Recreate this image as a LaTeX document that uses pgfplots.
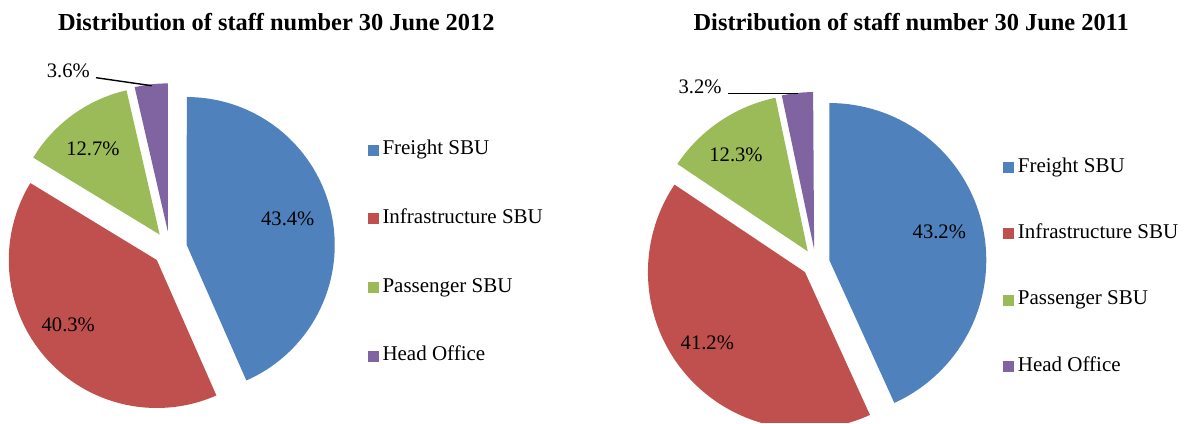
\documentclass[border=0pt]{standalone}
\usepackage{fontspec}
\setmainfont{Liberation Serif}
\usepackage{pgfplots}
\pgfplotsset{compat=1.18}

\definecolor{frblue}{HTML}{4F81BD}
\definecolor{inred}{HTML}{C0504D}
\definecolor{pagreen}{HTML}{9BBB59}
\definecolor{hopurple}{HTML}{8064A2}

\newcommand\lab{\fontsize{20.6}{24}\selectfont}
\newcommand\leg{\fontsize{21}{25}\selectfont}
\newcommand\ttl{\fontsize{24.4}{28}\selectfont\bfseries}

% pie: centre x, centre y, radius, explode distance; slices run clockwise from 12 o'clock
\newcommand\piestart[4]{\gdef\pcx{#1}\gdef\pcy{#2}\gdef\pr{#3}\gdef\pd{#4}\gdef\pang{90}}
\newcommand\pieslice[2]{%
  \pgfmathsetmacro\aone{\pang}%
  \pgfmathsetmacro\atwo{\pang-3.6*#1}%
  \pgfmathsetmacro\amid{(\aone+\atwo)/2}%
  \pgfmathsetmacro\ox{\pcx+\pd*cos(\amid)}%
  \pgfmathsetmacro\oy{\pcy+\pd*sin(\amid)}%
  \xdef\pang{\atwo}%
  \edef\doplot{\noexpand\addplot[fill=#2, draw=none, domain=\atwo:\aone, samples=90]
    ({\ox+\pr*cos(x)}, {\oy+\pr*sin(x)}) -- (axis cs:\ox,\oy) -- cycle;}%
  \doplot
}

\pgfplotsset{
  piebox/.style={
    width=593pt, height=423pt, scale only axis,
    ymin=0, ymax=423, hide axis,
    legend cell align=left,
    legend image code/.code={\fill[##1] (0pt,-5.5pt) rectangle (11pt,5.5pt);},
    legend style={draw=none, fill=none, anchor=north west, inner sep=0pt,
      nodes={inner sep=0pt, text height=14pt, text depth=4.5pt, font=\leg},
      /tikz/every odd column/.style={column sep=4pt}},
  },
}

\begin{document}
\begin{tikzpicture}
\useasboundingbox (0,0) rectangle (1186pt,423pt);

% 30 June 2012
\begin{axis}[piebox, at={(0pt,0pt)}, anchor=south west, xmin=0, xmax=593,
  legend style={at={(axis cs:367.3,282.3)}, row sep=50.2pt}]
\piestart{169.8}{174.4}{148}{17.3}
\pieslice{43.4}{frblue}
\pieslice{40.3}{inred}
\pieslice{12.7}{pagreen}
\pieslice{3.6}{hopurple}
\legend{Freight SBU, Infrastructure SBU, Passenger SBU, Head Office}
\node[font=\ttl, anchor=base] at (axis cs:276.3,392) {Distribution of staff number 30 June 2012};
\node[font=\lab, anchor=base] at (axis cs:287.8,197) {43.4\%};
\node[font=\lab, anchor=base] at (axis cs:68.3,91.3) {40.3\%};
\node[font=\lab, anchor=base] at (axis cs:93,267) {12.7\%};
\node[font=\lab, anchor=base] at (axis cs:68.3,345.3) {3.6\%};
\draw[black, line width=1.4pt] (axis cs:96,345.3) -- (axis cs:151.7,337.3);
\end{axis}

% 30 June 2011
\begin{axis}[piebox, at={(593pt,0pt)}, anchor=south west, xmin=593, xmax=1186,
  legend style={at={(axis cs:1002.7,264.7)}, row sep=47.7pt}]
\piestart{815.6}{160}{157}{14}
\pieslice{43.2}{frblue}
\pieslice{41.2}{inred}
\pieslice{12.3}{pagreen}
\pieslice{3.2}{hopurple}
\legend{Freight SBU, Infrastructure SBU, Passenger SBU, Head Office}
\node[font=\ttl, anchor=base] at (axis cs:911.2,392) {Distribution of staff number 30 June 2011};
\node[font=\lab, anchor=base] at (axis cs:939.3,184.7) {43.2\%};
\node[font=\lab, anchor=base] at (axis cs:707.3,73) {41.2\%};
\node[font=\lab, anchor=base] at (axis cs:736,261.3) {12.3\%};
\node[font=\lab, anchor=base] at (axis cs:700,329.7) {3.2\%};
\draw[black, line width=1.4pt] (axis cs:728.3,329.7) -- (axis cs:797.7,329.7);
\end{axis}
\end{tikzpicture}
\end{document}
